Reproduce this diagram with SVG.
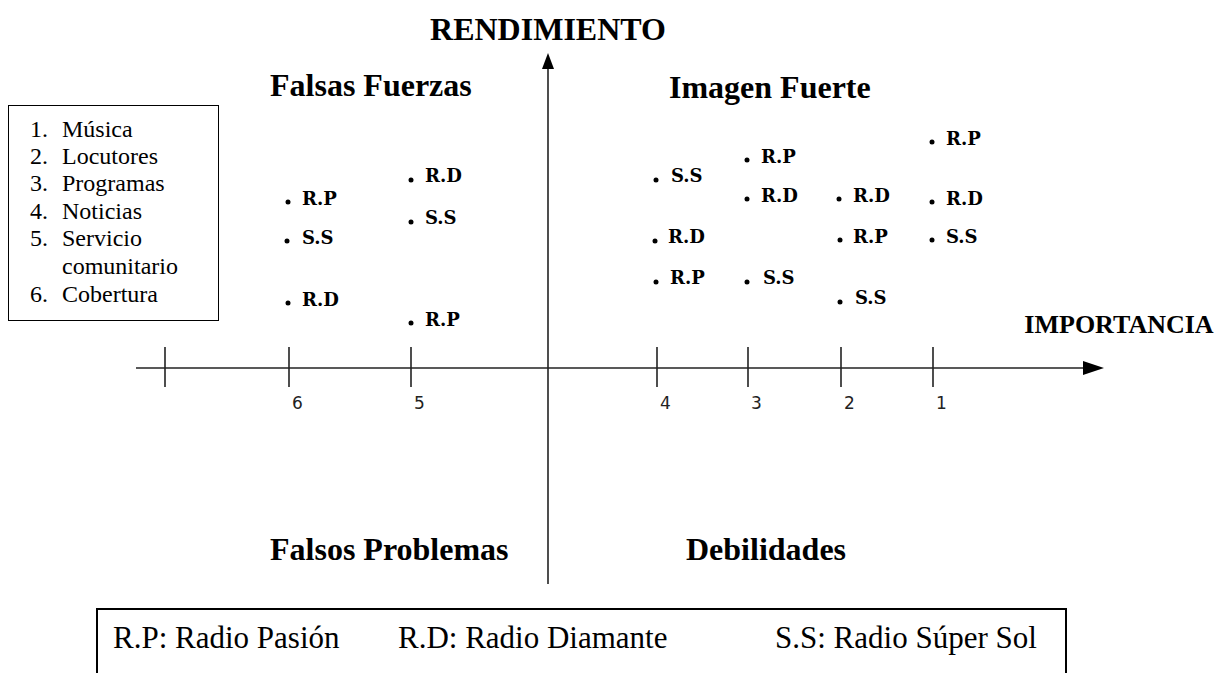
<svg xmlns="http://www.w3.org/2000/svg" width="1222" height="673" viewBox="0 0 1222 673">
<style>
.title{font-family:"Liberation Serif","Times New Roman",serif;font-weight:bold;font-size:32px;fill:#000}
.axt{font-family:"Liberation Serif","Times New Roman",serif;font-weight:bold;font-size:26px;fill:#000}
.leg{font-family:"Liberation Serif","Times New Roman",serif;font-size:24px;fill:#000}
.pt{font-family:"DejaVu Serif","Liberation Serif",serif;font-weight:bold;font-size:18px;fill:#000}
.tk{font-family:"DejaVu Sans",sans-serif;font-size:17px;fill:#222}
.bot{font-family:"Liberation Serif","Times New Roman",serif;font-size:31px;fill:#000}
.ax{stroke:#222;stroke-width:1.6;fill:none}
</style>
<defs>
<circle id="dot" r="2.5" fill="#000"/>
</defs>
<rect width="1222" height="673" fill="#fff"/>
<g id="connectors">
<line class="ax" x1="548" y1="66" x2="548" y2="584"/>
<polygon points="548,53 542,69 554,69" fill="#000"/>
<line class="ax" x1="136" y1="368" x2="1086" y2="368"/>
<polygon points="1104,368 1083,361 1083,375" fill="#000"/>
<g class="ax">
<line x1="165" y1="347" x2="165" y2="387"/>
<line x1="289" y1="347" x2="289" y2="387"/>
<line x1="411" y1="347" x2="411" y2="387"/>
<line x1="657" y1="347" x2="657" y2="387"/>
<line x1="748" y1="347" x2="748" y2="387"/>
<line x1="841" y1="347" x2="841" y2="387"/>
<line x1="933" y1="347" x2="933" y2="387"/>
</g>
</g>
<g id="ticklabels">
<text class="tk" x="292" y="409">6</text>
<text class="tk" x="414" y="409">5</text>
<text class="tk" x="660" y="409">4</text>
<text class="tk" x="751" y="409">3</text>
<text class="tk" x="844" y="409">2</text>
<text class="tk" x="936" y="409">1</text>
</g>
<g id="axis-titles">
<text class="title" x="548" y="40" text-anchor="middle">RENDIMIENTO</text>
<text class="axt" x="1119" y="333" text-anchor="middle">IMPORTANCIA</text>
</g>
<g id="quadrants">
<text class="title" x="270" y="96">Falsas Fuerzas</text>
<text class="title" x="669" y="98">Imagen Fuerte</text>
<text class="title" x="270" y="560">Falsos Problemas</text>
<text class="title" x="686" y="560">Debilidades</text>
</g>
<g id="legend">
<rect x="8.5" y="105.5" width="210" height="215" fill="none" stroke="#000" stroke-width="1"/>
<text class="leg" x="30" y="137">1.</text><text class="leg" x="62" y="137">Música</text>
<text class="leg" x="30" y="164">2.</text><text class="leg" x="62" y="164">Locutores</text>
<text class="leg" x="30" y="191">3.</text><text class="leg" x="62" y="191">Programas</text>
<text class="leg" x="30" y="219">4.</text><text class="leg" x="62" y="219">Noticias</text>
<text class="leg" x="30" y="246">5.</text><text class="leg" x="62" y="246">Servicio</text>
<text class="leg" x="62" y="274">comunitario</text>
<text class="leg" x="30" y="302">6.</text><text class="leg" x="62" y="302">Cobertura</text>
</g>
<g id="points">
<g id="p6"><use href="#dot" x="288" y="202"/><text class="pt" x="302" y="205">R.P</text>
<use href="#dot" x="287" y="241"/><text class="pt" x="302" y="244">S.S</text>
<use href="#dot" x="288" y="303"/><text class="pt" x="302" y="306">R.D</text></g>
<g id="p5"><use href="#dot" x="411" y="180"/><text class="pt" x="425" y="182">R.D</text>
<use href="#dot" x="411" y="222"/><text class="pt" x="425" y="224">S.S</text>
<use href="#dot" x="411" y="323"/><text class="pt" x="425" y="326">R.P</text></g>
<g id="p4"><use href="#dot" x="656" y="180"/><text class="pt" x="671" y="182">S.S</text>
<use href="#dot" x="655" y="241"/><text class="pt" x="668" y="243">R.D</text>
<use href="#dot" x="656" y="282"/><text class="pt" x="670" y="284">R.P</text></g>
<g id="p3"><use href="#dot" x="747" y="160"/><text class="pt" x="761" y="163">R.P</text>
<use href="#dot" x="747" y="199"/><text class="pt" x="761" y="202">R.D</text>
<use href="#dot" x="747" y="282"/><text class="pt" x="763" y="284">S.S</text></g>
<g id="p2"><use href="#dot" x="839" y="199"/><text class="pt" x="853" y="202">R.D</text>
<use href="#dot" x="840" y="240"/><text class="pt" x="853" y="243">R.P</text>
<use href="#dot" x="840" y="302"/><text class="pt" x="855" y="304">S.S</text></g>
<g id="p1"><use href="#dot" x="932" y="142"/><text class="pt" x="946" y="145">R.P</text>
<use href="#dot" x="932" y="202"/><text class="pt" x="946" y="205">R.D</text>
<use href="#dot" x="932" y="240"/><text class="pt" x="946" y="243">S.S</text></g>
</g>
<g id="key">
<path d="M97,673 V609 H1066 V673" fill="none" stroke="#000" stroke-width="2"/>
<text class="bot" x="113" y="648">R.P: Radio Pasión</text>
<text class="bot" x="398" y="648">R.D: Radio Diamante</text>
<text class="bot" x="775" y="648">S.S: Radio Súper Sol</text>
</g>
</svg>
